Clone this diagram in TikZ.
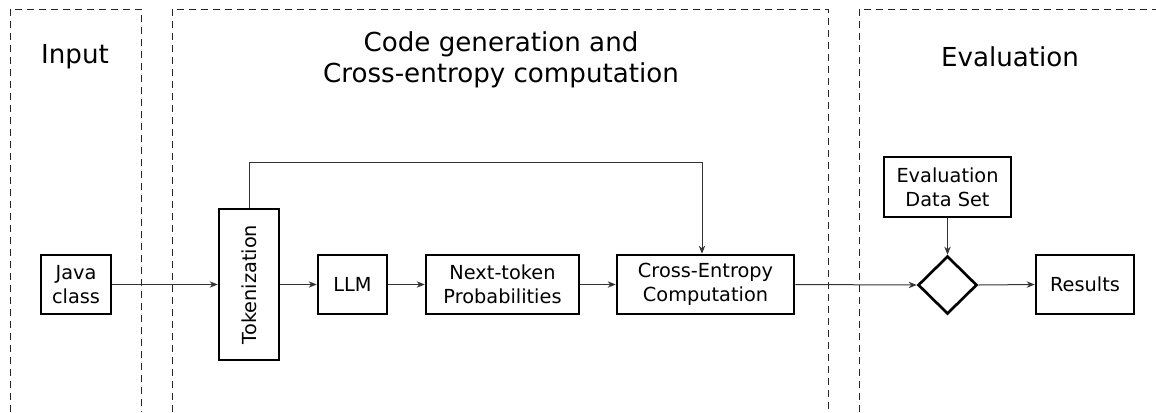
\documentclass[tikz,border=0pt]{standalone}
\usepackage{fontspec}
\setmainfont{DejaVu Sans}
\usetikzlibrary{shapes.geometric,arrows.meta}
\begin{document}
\begin{tikzpicture}[x=0.75pt,y=-0.75pt,
  frame/.style={dash pattern=on 5.25pt off 3.75pt, line width=0.75pt, black!85},
  heading/.style={font=\fontsize{19.6}{23.5}\selectfont, align=center, inner sep=0pt},
  box/.style={draw, line width=2pt, inner sep=0pt, align=center, font=\fontsize{14.5}{18}\selectfont},
  conn/.style={line width=0.75pt, black!80, -{Stealth[length=6pt,width=4.8pt]}},
  plain/.style={line width=0.75pt, black!80}]
\useasboundingbox (0,0) rectangle (1156,412);
% frames
\draw[frame] (10,412) -- (10,9) -- (141,9) -- (141,412);
\draw[frame] (172,412) -- (172,9) -- (828,9) -- (828,412);
\draw[frame] (859,412) -- (859,9) -- (1156,9);
% headings
\node[heading] (hin) at (75,57) {Input};
\node[heading] (hcode) at (501,60) {Code generation and\\Cross-entropy computation};
\node[heading] (heval) at (1010,57) {Evaluation};
% boxes
\node[box, minimum width=52.5pt, minimum height=44.25pt] (java) at (76,284.5) {Java\\class};
\node[box, minimum width=45pt, minimum height=113.25pt] (tok) at (249,284.5) {\rotatebox{90}{Tokenization}};
\node[box, minimum width=51.75pt, minimum height=44.25pt] (llm) at (352.5,284.5) {LLM};
\node[box, minimum width=114.75pt, minimum height=44.25pt] (next) at (502.5,284.5) {Next-token\\Probabilities};
\node[box, minimum width=132.75pt, minimum height=44.25pt] (cross) at (705.5,284.5) {Cross-Entropy\\Computation};
\node[box, minimum width=95.25pt, minimum height=45pt] (evds) at (947.5,187) {Evaluation\\Data Set};
\node[draw, diamond, line width=2pt, inner sep=0pt, aspect=1, minimum width=44.25pt, minimum height=43.5pt] (dia) at (947.5,285) {};
\node[box, minimum width=73.5pt, minimum height=44.25pt] (res) at (1085,284.5) {Results};
% connectors
\draw[conn] (java.east) -- (tok.west);
\draw[conn] (tok.east) -- (llm.west);
\draw[conn] (llm.east) -- (next.west);
\draw[conn] (next.east) -- (cross.west);
\draw[conn] (cross.east) -- (dia.west);
\draw[conn] (dia.east) -- (res.west);
\draw[conn] (evds.south) -- (dia.north);
\coordinate (fbA) at (249,162);
\coordinate (fbB) at (702,162);
\draw[conn] (tok.north) -- (fbA) -- (fbB) -- (fbB |- cross.north);
\end{tikzpicture}
\end{document}
